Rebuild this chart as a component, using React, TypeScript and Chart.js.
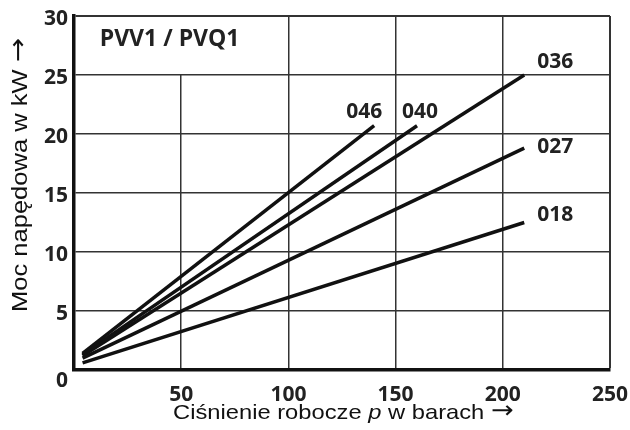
import React, { useEffect, useRef } from "react";
import { Chart, registerables } from "chart.js";

Chart.register(...registerables);

// Pump sizes and their power curves (pressure in bar -> drive power in kW)
const seriesNames = ["046", "040", "036", "027", "018"];
const startPressure = [4, 4, 4, 4, 4];
const endPressure = [140, 160, 210, 210, 210];
const startPower = [1.4, 1.3, 1.2, 1.0, 0.6];
const endPower = [20.7, 20.7, 25.0, 18.8, 12.5];

// Axis ticks
const xTicks = [0, 50, 100, 150, 200, 250];
const yTicks = [0, 5, 10, 15, 20, 25, 30];

const chartTitle = "PVV1 / PVQ1";
const yTitle = "Moc napędowa w kW";
const xTitleParts = [
  { text: "Ciśnienie robocze ", italic: false },
  { text: "p", italic: true },
  { text: " w barach", italic: false },
];
const ARROW = "→";

// Where each size label sits relative to the end of its curve
const labelOffsets: Record<string, [number, number, CanvasTextAlign]> = {
  "046": [-10, -14, "center"],
  "040": [3, -14, "center"],
  "036": [13, -13, "left"],
  "027": [13, -1, "left"],
  "018": [13, -7, "left"],
};

const BOLD = "'Open Sans', 'DejaVu Sans', sans-serif";
const PLAIN = "'Liberation Sans', Arial, sans-serif";
const SYMBOL = "'DejaVu Sans', sans-serif";

// Draws a run of text parts followed by an arrow, starting at (0,0) along +x
function drawTitleRun(
  ctx: CanvasRenderingContext2D,
  parts: { text: string; italic: boolean }[],
  size: number,
  stretch: number
) {
  ctx.save();
  ctx.scale(stretch, 1);
  ctx.textAlign = "left";
  ctx.textBaseline = "alphabetic";
  let cx = 0;
  parts.forEach((p) => {
    ctx.font = p.italic ? `italic ${size}px ${PLAIN}` : `${size}px ${PLAIN}`;
    ctx.fillText(p.text, cx, 0);
    cx += ctx.measureText(p.text).width;
  });
  ctx.font = `${size}px ${PLAIN}`;
  cx += ctx.measureText(" ").width;
  ctx.font = `${size + 3}px ${SYMBOL}`;
  ctx.fillText(ARROW, cx, -1);
  ctx.restore();
}

const annotations = {
  id: "annotations",
  beforeDatasetsDraw(chart: any) {
    const { ctx, scales } = chart;
    const x = scales.x;
    const y = scales.y;
    // white panel behind the series title
    ctx.save();
    ctx.fillStyle = "#fff";
    const l = x.getPixelForValue(0) + 2;
    const r = x.getPixelForValue(100) - 1;
    const t = y.getPixelForValue(30) + 1;
    const b = y.getPixelForValue(25) - 1;
    ctx.fillRect(l, t, r - l, b - t);
    ctx.fillStyle = "#222";
    ctx.font = `bold 23px ${BOLD}`;
    ctx.textAlign = "left";
    ctx.textBaseline = "middle";
    ctx.fillText(chartTitle, x.getPixelForValue(12), y.getPixelForValue(28.0));
    ctx.restore();
  },
  afterDraw(chart: any) {
    const { ctx, scales } = chart;
    const x = scales.x;
    const y = scales.y;
    ctx.save();
    // curve labels
    ctx.fillStyle = "#222";
    ctx.font = `bold 21px ${BOLD}`;
    ctx.textBaseline = "middle";
    seriesNames.forEach((name, i) => {
      const [dx, dy, align] = labelOffsets[name];
      ctx.textAlign = align;
      ctx.fillText(
        name,
        x.getPixelForValue(endPressure[i]) + dx,
        y.getPixelForValue(endPower[i]) + dy
      );
    });
    // shared origin label
    ctx.textAlign = "right";
    ctx.fillText("0", x.getPixelForValue(0) - 6, y.getPixelForValue(0) + 11);
    ctx.restore();

    ctx.save();
    ctx.fillStyle = "#111";
    // x axis title with italic symbol
    ctx.translate(173, 419);
    drawTitleRun(ctx, xTitleParts, 21, 1.13);
    ctx.restore();

    // y axis title, reading upwards
    ctx.save();
    ctx.fillStyle = "#111";
    ctx.translate(27, 312);
    ctx.rotate(-Math.PI / 2);
    drawTitleRun(ctx, [{ text: yTitle, italic: false }], 22, 1.16);
    ctx.restore();
  },
};

export default function App() {
  const ref = useRef<HTMLCanvasElement>(null);

  useEffect(() => {
    if (!ref.current) return;
    const datasets = seriesNames.map((name, i) => ({
      label: name,
      data: [
        { x: startPressure[i], y: startPower[i] },
        { x: endPressure[i], y: endPower[i] },
      ],
      borderColor: "#111",
      borderWidth: 3.5,
      pointRadius: 0,
      fill: false,
      tension: 0,
      borderCapStyle: "butt" as const,
    }));

    const chart = new Chart(ref.current, {
      type: "line",
      data: { datasets },
      plugins: [annotations],
      options: {
        animation: false,
        responsive: false,
        layout: { padding: { top: 16, right: 20, left: 0, bottom: 0 } },
        plugins: {
          legend: { display: false },
          tooltip: { enabled: false },
          title: { display: false },
        },
        scales: {
          x: {
            type: "linear",
            min: 0,
            max: 250,
            afterBuildTicks: (s: any) => {
              s.ticks = xTicks.map((v) => ({ value: v }));
            },
            afterFit: (s: any) => {
              s.height = 60;
              s.paddingLeft = 0;
              s.paddingRight = 0;
            },
            ticks: {
              color: "#222",
              font: { family: BOLD, size: 21, weight: "bold" },
              padding: 12,
              maxRotation: 0,
              callback: (v: any) => (v === 0 ? "" : String(v)),
            },
            grid: {
              color: "#333",
              lineWidth: (c: any) => (c.tick && c.tick.value === 250 ? 2 : 1.5),
              drawTicks: false,
            },
            border: { display: true, color: "#111", width: 3.5 },
          },
          y: {
            type: "linear",
            min: 0,
            max: 30,
            afterBuildTicks: (s: any) => {
              s.ticks = yTicks.map((v) => ({ value: v }));
            },
            afterFit: (s: any) => {
              s.width = 74;
              s.paddingTop = 0;
              s.paddingBottom = 0;
            },
            ticks: {
              color: "#222",
              font: { family: BOLD, size: 21, weight: "bold" },
              padding: 6,
              labelOffset: 3,
              callback: (v: any) => (v === 0 ? "" : String(v)),
            },
            grid: {
              color: "#333",
              lineWidth: (c: any) => (c.tick && c.tick.value === 30 ? 2 : 1.5),
              drawTicks: false,
            },
            border: { display: true, color: "#111", width: 3.5 },
          },
        },
      },
    });
    return () => chart.destroy();
  }, []);

  return (
    <div style={{ position: "fixed", left: 0, top: 0, width: 630, height: 430, background: "#fff" }}>
      <canvas ref={ref} width={630} height={430} style={{ display: "block" }} />
    </div>
  );
}
